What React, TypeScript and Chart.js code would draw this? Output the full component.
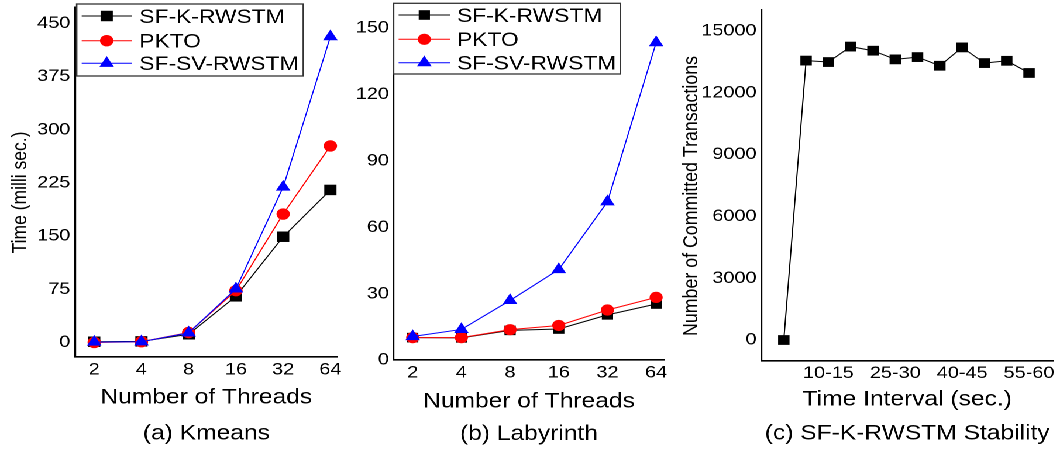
import React, { useEffect, useRef } from 'react';
import { Chart, registerables } from 'chart.js';

Chart.register(...registerables);

// ---------------- data ----------------
const threads = ['2', '4', '8', '16', '32', '64'];
const seriesNames = ['SF-K-RWSTM', 'PKTO', 'SF-SV-RWSTM'];

const kmeansSFK = [1, 1.5, 11.5, 65, 149, 215];
const kmeansPKTO = [0, 1, 14, 73, 181, 277];
const kmeansSFSV = [0.5, 1, 13.5, 75.5, 219, 431];

const labSFK = [10.1, 10, 13.4, 14, 20.4, 25.3];
const labPKTO = [10.1, 10.1, 13.7, 15.6, 22.6, 28.3];
const labSFSV = [10.6, 13.8, 26.9, 40.9, 71.5, 143.4];

const intervals = ['0-5', '5-10', '10-15', '15-20', '20-25', '25-30', '30-35', '35-40', '40-45', '45-50', '50-55', '55-60'];
const committed = [0, 13550, 13480, 14230, 14030, 13610, 13720, 13300, 14190, 13430, 13540, 12950];
const intervalTickIdx = [2, 5, 8, 11];

const kmeansTicks = [0, 75, 150, 225, 300, 375, 450];
const labTicks = [0, 30, 60, 90, 120, 150];
const stabilityTicks = [0, 3000, 6000, 9000, 12000, 15000];

// ---------------- layout ----------------
const S = 1.17; // horizontal stretch of the whole figure
const FONT = "'Liberation Sans', Arial, Helvetica, sans-serif";
const H = 452;

const COLORS = ['#000000', '#ff0000', '#0000ff'];
const STYLES = ['rect', 'circle', 'triangle'];

type Series = { name: string; values: number[]; color: string; style: string; radius: number; order: number };
type Panel = any;

const threadIdx = threads.map((_, i) => i);

const panels: Panel[] = [
  {
    L: 0, R: 346, plotL: 75, plotR: 341.7, top: 4, bottom: 356.7,
    xMin: -0.407, xMax: 5.154, yMin: -20.1, yMax: 472.3, yTicks: kmeansTicks,
    xTickIdx: threadIdx, xLabels: threads, xTickPad: 3,
    xTitle: 'Number of Threads', caption: '(a) Kmeans', titleLH: 36.3, titlePad: 0,
    yTitle: { text: 'Time (milli sec.)', x: 26.5, y: 192.5, size: 17.5 },
    legend: { box: [76.7, 4, 303.3, 76], line: [81.7, 131.7], marker: 106.7, text: 139.3, rows: [16, 40.7, 63.3], size: 19.5 },
    series: [
      { name: seriesNames[0], values: kmeansSFK, color: COLORS[0], style: STYLES[0], radius: 7.4, order: 3 },
      { name: seriesNames[1], values: kmeansPKTO, color: COLORS[1], style: STYLES[1], radius: 5.7, order: 2 },
      { name: seriesNames[2], values: kmeansSFSV, color: COLORS[2], style: STYLES[2], radius: 7.2, order: 1 },
    ] as Series[],
  },
  {
    L: 346, R: 672, plotL: 393.3, plotR: 668.3, top: 3.3, bottom: 360,
    xMin: -0.392, xMax: 5.168, yMin: 0, yMax: 159.4, yTicks: labTicks,
    xTickIdx: threadIdx, xLabels: threads, xTickPad: 2.4,
    xTitle: 'Number of Threads', caption: '(b) Labyrinth', titleLH: 32.2, titlePad: 1.9,
    yTitle: null,
    legend: { box: [393.3, 3.3, 620, 74], line: [398.3, 450], marker: 424, text: 456.7, rows: [15, 39.3, 62.7], size: 19.5 },
    series: [
      { name: seriesNames[0], values: labSFK, color: COLORS[0], style: STYLES[0], radius: 6.8, order: 3 },
      { name: seriesNames[1], values: labPKTO, color: COLORS[1], style: STYLES[1], radius: 5.6, order: 2 },
      { name: seriesNames[2], values: labSFSV, color: COLORS[2], style: STYLES[2], radius: 7.2, order: 1 },
    ] as Series[],
  },
  {
    L: 672, R: 1062, plotL: 761.7, plotR: 1055, top: 10, bottom: 361,
    xMin: -1.01, xMax: 12.08, yMin: -1018, yMax: 16004, yTicks: stabilityTicks,
    xTickIdx: intervalTickIdx, xLabels: intervals, xTickPad: 2.1,
    xTitle: 'Time Interval (sec.)', caption: '(c) SF-K-RWSTM Stability', titleLH: 33.8, titlePad: 1.6,
    yTitle: { text: 'Number of Committed Transactions', x: 697.5, y: 196, size: 17.8 },
    legend: null,
    series: [
      { name: seriesNames[0], values: committed, color: COLORS[0], style: STYLES[0], radius: 6.9, order: 1 },
    ] as Series[],
  },
];

// ---------------- plugin: legend box + rotated y title ----------------
function drawMarker(ctx: CanvasRenderingContext2D, style: string, x: number, y: number, r: number) {
  ctx.beginPath();
  if (style === 'rect') {
    const s = r * Math.SQRT1_2;
    ctx.rect(x - s, y - s, 2 * s, 2 * s);
  } else if (style === 'circle') {
    ctx.arc(x, y, r, 0, Math.PI * 2);
  } else {
    ctx.moveTo(x, y - r);
    ctx.lineTo(x + 0.866 * r, y + 0.5 * r);
    ctx.lineTo(x - 0.866 * r, y + 0.5 * r);
    ctx.closePath();
  }
  ctx.fill();
}

const decorPlugin = {
  id: 'decor',
  afterDraw(chart: any, _args: any, opts: any) {
    const ctx: CanvasRenderingContext2D = chart.ctx;
    const yt = opts.yTitle;
    if (yt && yt.text) {
      ctx.save();
      ctx.translate(yt.x, yt.y);
      ctx.rotate(-Math.PI / 2);
      ctx.font = `${yt.size}px ${FONT}`;
      ctx.fillStyle = '#000';
      ctx.textAlign = 'center';
      ctx.textBaseline = 'alphabetic';
      ctx.fillText(yt.text, 0, 0);
      ctx.restore();
    }
    const lg = opts.legend;
    if (lg && lg.box) {
      ctx.save();
      const [x1, y1, x2, y2] = lg.box;
      ctx.fillStyle = '#ffffff';
      ctx.fillRect(x1, y1, x2 - x1, y2 - y1);
      ctx.strokeStyle = '#333333';
      ctx.lineWidth = 1.3;
      ctx.strokeRect(x1, y1, x2 - x1, y2 - y1);
      chart.data.datasets.forEach((ds: any, i: number) => {
        const y = lg.rows[i];
        ctx.strokeStyle = ds.borderColor;
        ctx.lineWidth = 1;
        ctx.beginPath();
        ctx.moveTo(lg.line[0], y);
        ctx.lineTo(lg.line[1], y);
        ctx.stroke();
        ctx.fillStyle = ds.borderColor;
        drawMarker(ctx, ds.pointStyle, lg.marker, y, ds.pointRadius);
        ctx.fillStyle = '#000';
        ctx.font = `${lg.size}px ${FONT}`;
        ctx.textAlign = 'left';
        ctx.textBaseline = 'middle';
        ctx.fillText(ds.label, lg.text, y + 1.5);
      });
      ctx.restore();
    }
  },
};

// ---------------- config ----------------
function makeConfig(p: Panel): any {
  const yW = (p.plotL - p.L) / S;
  const padR = (p.R - p.plotR) / S;
  const xH = H - p.bottom;
  const ix = (x: number) => (x - p.L) / S;
  return {
    type: 'line',
    data: {
      datasets: p.series.map((s: Series) => ({
        label: s.name,
        data: s.values.map((v, i) => ({ x: i, y: v })),
        borderColor: s.color,
        backgroundColor: s.color,
        pointBackgroundColor: s.color,
        pointBorderColor: s.color,
        borderWidth: 1,
        pointBorderWidth: 0,
        pointStyle: s.style,
        pointRadius: s.radius,
        pointHoverRadius: s.radius,
        tension: 0,
        order: s.order,
        clip: false,
      })),
    },
    options: {
      responsive: false,
      maintainAspectRatio: false,
      animation: false,
      devicePixelRatio: 2,
      events: [],
      layout: { padding: { left: 0, right: padR, top: p.top, bottom: 0 } },
      plugins: {
        legend: { display: false },
        tooltip: { enabled: false },
        decor: {
          yTitle: p.yTitle ? { text: p.yTitle.text, x: ix(p.yTitle.x), y: p.yTitle.y, size: p.yTitle.size } : null,
          legend: p.legend
            ? {
                box: [ix(p.legend.box[0]), p.legend.box[1], ix(p.legend.box[2]), p.legend.box[3]],
                line: [ix(p.legend.line[0]), ix(p.legend.line[1])],
                marker: ix(p.legend.marker),
                text: ix(p.legend.text),
                rows: p.legend.rows,
                size: p.legend.size,
              }
            : null,
        },
      },
      scales: {
        x: {
          type: 'linear',
          position: 'bottom',
          min: p.xMin,
          max: p.xMax,
          afterFit: (s: any) => {
            s.height = xH;
            s.paddingLeft = 0;
            s.paddingRight = 0;
          },
          afterBuildTicks: (s: any) => {
            s.ticks = p.xTickIdx.map((v: number) => ({ value: v }));
          },
          ticks: {
            callback: (v: any) => p.xLabels[Math.round(v)] ?? '',
            font: { family: FONT, size: 17 },
            color: '#000',
            padding: p.xTickPad,
            maxRotation: 0,
            minRotation: 0,
            autoSkip: false,
          },
          grid: { display: false, drawTicks: false },
          border: { display: true, color: '#000', width: 1.6 },
          title: {
            display: true,
            text: [p.xTitle, p.caption],
            font: { family: FONT, size: 21, lineHeight: `${p.titleLH}px` },
            color: '#000',
            padding: { top: 0, bottom: p.titlePad },
          },
        },
        y: {
          type: 'linear',
          position: 'left',
          min: p.yMin,
          max: p.yMax,
          afterFit: (s: any) => {
            s.width = yW;
            s.paddingTop = 0;
            s.paddingBottom = 0;
          },
          afterBuildTicks: (s: any) => {
            s.ticks = p.yTicks.map((v: number) => ({ value: v }));
          },
          ticks: {
            callback: (v: any) => String(v),
            font: { family: FONT, size: 17 },
            color: '#000',
            padding: 4,
            autoSkip: false,
          },
          grid: { display: false, drawTicks: false },
          border: { display: true, color: '#000', width: 1.6 },
          title: { display: false },
        },
      },
    },
    plugins: [decorPlugin],
  };
}

function ChartPanel({ panel }: { panel: Panel }) {
  const ref = useRef<HTMLCanvasElement>(null);
  const w = Math.round((panel.R - panel.L) / S);
  useEffect(() => {
    const c = ref.current;
    if (!c) return;
    c.width = w;
    c.height = H;
    const chart = new Chart(c, makeConfig(panel));
    return () => chart.destroy();
  }, []);
  return (
    <canvas
      ref={ref}
      width={w}
      height={H}
      style={{ position: 'absolute', left: `${panel.L / S}px`, top: 0, width: `${w}px`, height: `${H}px` }}
    />
  );
}

export default function App() {
  const wInt = 1062 / S;
  return (
    <div style={{ position: 'fixed', left: 0, top: 0, width: 1062, height: H, background: '#fff', overflow: 'hidden' }}>
      <div
        style={{
          position: 'absolute',
          left: 0,
          top: 0,
          width: `${wInt}px`,
          height: `${H}px`,
          transform: `scale(${S}, 1)`,
          transformOrigin: '0 0',
        }}
      >
        {panels.map((p, i) => (
          <ChartPanel key={i} panel={p} />
        ))}
      </div>
    </div>
  );
}
